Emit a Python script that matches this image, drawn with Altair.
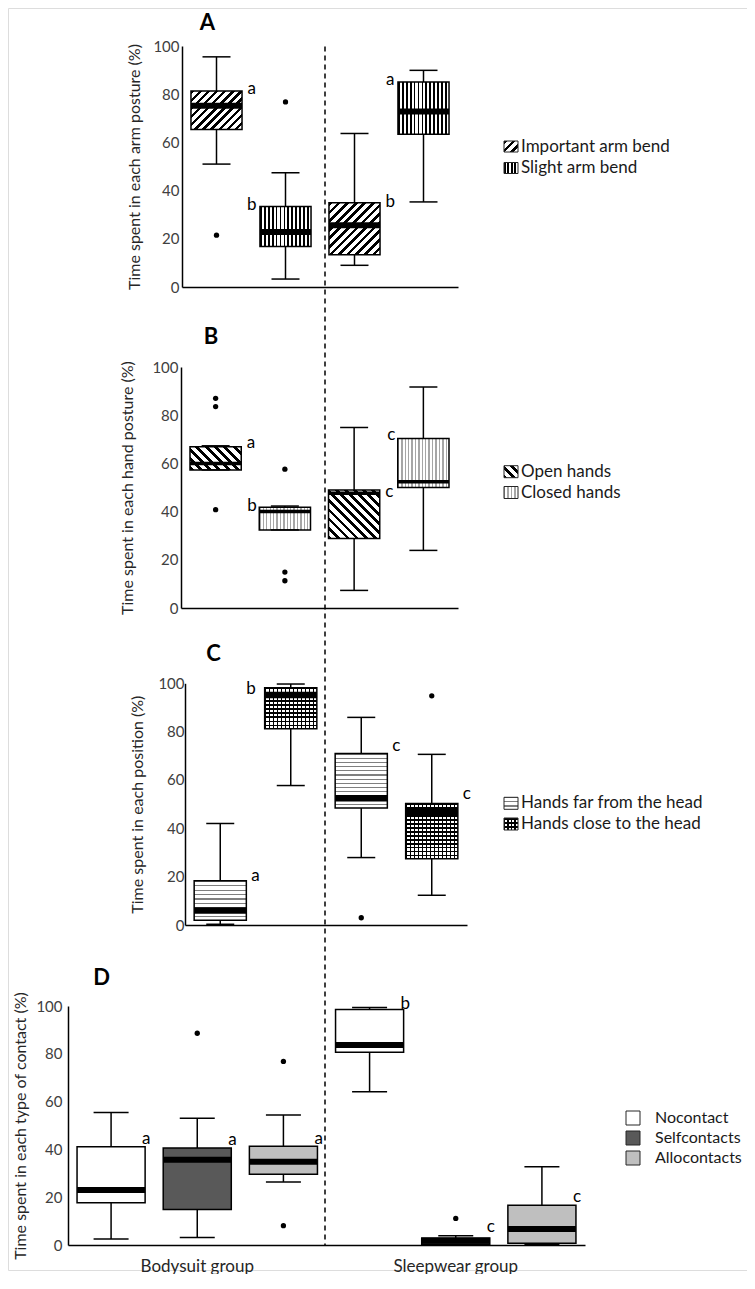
import math
import altair as alt
import pandas as pd

FONT = "Lato"
W, H = 739, 1262

groups = ["Bodysuit group", "Sleepwear group"]

# ---------------- Panel A : arm posture ----------------
a_types = ["Important arm bend", "Slight arm bend"]
a_lo = [51.0, 3.3, 9.0, 35.3]
a_q1 = [65.4, 16.8, 13.4, 63.4]
a_med = [75.2, 22.8, 25.6, 72.8]
a_q3 = [81.3, 33.4, 35.0, 85.1]
a_hi = [95.5, 47.4, 63.7, 89.9]
a_out_group = ["Bodysuit group", "Bodysuit group"]
a_out_type = ["Important arm bend", "Slight arm bend"]
a_out_val = [21.5, 76.8]
a_letters = ["a", "b", "b", "a"]
a_letter_y = [82.3, 34.0, 35.4, 85.8]
a_letter_side = ["R", "L", "R", "L"]

# ---------------- Panel B : hand posture ----------------
b_types = ["Open hands", "Closed hands"]
b_lo = [57.3, 32.4, 7.3, 23.9]
b_q1 = [57.3, 32.4, 28.8, 50.0]
b_med = [60.0, 40.0, 47.6, 52.4]
b_q3 = [66.9, 41.8, 49.0, 70.3]
b_hi = [67.3, 42.3, 74.9, 91.7]
b_out_group = ["Bodysuit group"] * 6
b_out_type = ["Open hands"] * 3 + ["Closed hands"] * 3
b_out_val = [87.0, 83.6, 40.8, 57.6, 14.9, 11.3]
b_letters = ["a", "b", "c", "c"]
b_letter_y = [68.3, 42.5, 48.3, 71.7]
b_letter_side = ["R", "L", "R", "L"]

# ---------------- Panel C : hand position ----------------
c_types = ["Hands far from the head", "Hands close to the head"]
c_lo = [0.3, 57.7, 27.9, 12.3]
c_q1 = [2.0, 81.2, 48.4, 27.4]
c_med = [6.0, 95.2, 52.4, 46.9]
c_q3 = [18.3, 98.2, 71.0, 50.3]
c_hi = [42.0, 99.7, 85.9, 70.6]
c_out_group = ["Sleepwear group", "Sleepwear group"]
c_out_type = ["Hands far from the head", "Hands close to the head"]
c_out_val = [3.0, 94.8]
c_letters = ["a", "b", "c", "c"]
c_letter_y = [20.3, 97.7, 74.0, 54.2]
c_letter_side = ["R", "L", "R", "R"]

# ---------------- Panel D : contact ----------------
d_types = ["Nocontact", "Selfcontacts", "Allocontacts"]
d_lo = [2.5, 3.1, 26.4, 64.1, 0.0, 0.3]
d_q1 = [17.7, 14.9, 29.6, 80.7, 0.3, 0.7]
d_med = [23.0, 35.7, 34.8, 83.7, 1.8, 6.7]
d_q3 = [41.1, 40.6, 41.3, 98.5, 2.9, 16.6]
d_hi = [55.4, 53.0, 54.4, 99.4, 3.9, 32.7]
d_out_group = ["Bodysuit group", "Bodysuit group", "Bodysuit group", "Sleepwear group"]
d_out_type = ["Selfcontacts", "Allocontacts", "Allocontacts", "Selfcontacts"]
d_out_val = [88.6, 76.8, 8.1, 11.1]
d_letters = ["a", "a", "a", "b", "c", "c"]
d_letter_y = [44.3, 43.8, 44.5, 100.8, 7.6, 20.2]
d_letter_side = ["R", "R", "R", "R", "R", "R"]

panel_letters = ["A", "B", "C", "D"]
y_titles = [
    "Time spent in each arm posture (%)",
    "Time spent in each hand posture (%)",
    "Time spent in each position (%)",
    "Time spent in each type of contact (%)",
]


# ---------------- pattern helpers (styling only) ----------------
def grad(n, frac, dark, light, x1, y1, x2, y2):
    stops = []
    for k in range(n):
        a = round(k / n, 5)
        b = round((k + frac) / n, 5)
        c = round((k + 1) / n, 5)
        stops += [
            {"offset": a, "color": dark},
            {"offset": b, "color": dark},
            {"offset": b, "color": light},
            {"offset": c, "color": light},
        ]
    return {"gradient": "linear", "x1": x1, "y1": y1, "x2": x2, "y2": y2, "stops": stops}


def fills_for(spec, w, h):
    kind = spec[0]
    if kind == "solid":
        return [spec[1]]
    sp, frac, col = spec[1], spec[2], spec[3]
    h = max(h, 1.0)
    if kind in ("up", "down"):
        n = max(1, round((w + h) / (math.sqrt(2) * sp)))
        s = (1 / h + 1 / w) / (1 / h ** 2 + 1 / w ** 2)
        if kind == "up":
            return [grad(n, frac, col, "white", 0, 0, s / h, s / w)]
        return [grad(n, frac, col, "white", 0, 1, s / h, 1 - s / w)]
    if kind == "vert":
        return [grad(max(1, round(w / sp)), frac, col, "white", 0, 0, 1, 0)]
    if kind == "horiz":
        return [grad(max(1, round(h / sp)), frac, col, "white", 0, 0, 0, 1)]
    if kind == "checker":
        return [
            grad(max(1, round(h / sp)), frac, col, "white", 0, 0, 0, 1),
            grad(max(1, round(w / sp)), frac, col, "rgba(0,0,0,0)", 0, 0, 1, 0),
        ]
    return ["white"]


panels = [
    dict(types=a_types, lo=a_lo, q1=a_q1, med=a_med, q3=a_q3, hi=a_hi,
         og=a_out_group, ot=a_out_type, ov=a_out_val,
         let=a_letters, ly=a_letter_y, side=a_letter_side,
         x0=174, x1=450, y0=279, y100=38, pi=0.26, cap=28, medw=6,
         lp=3, tp=10, dxr=31, dxl=-29,
         fills={a_types[0]: ("up", 6.0, 0.42, "black"), a_types[1]: ("vert", 4.0, 0.45, "black")},
         leg_x=496, leg_tx=513, leg_y=[138.5, 160], sw=(14, 11), leg_fs=17,
         title_pos=(199.5, 15), xlabels=False),
    dict(types=b_types, lo=b_lo, q1=b_q1, med=b_med, q3=b_q3, hi=b_hi,
         og=b_out_group, ot=b_out_type, ov=b_out_val,
         let=b_letters, ly=b_letter_y, side=b_letter_side,
         x0=173, x1=450, y0=600, y100=359, pi=0.26, cap=28, medw=3.5,
         lp=3, tp=16, dxr=31, dxl=-28,
         fills={b_types[0]: ("down", 6.5, 0.42, "black"), b_types[1]: ("vert", 3.5, 0.4, "#a6a6a6")},
         leg_x=496, leg_tx=513, leg_y=[463.7, 484.5], sw=(14, 12), leg_fs=17,
         title_pos=(203, 329), xlabels=False),
    dict(types=c_types, lo=c_lo, q1=c_q1, med=c_med, q3=c_q3, hi=c_hi,
         og=c_out_group, ot=c_out_type, ov=c_out_val,
         let=c_letters, ly=c_letter_y, side=c_letter_side,
         x0=177, x1=459, y0=917, y100=675.3, pi=0.26, cap=28, medw=6.5,
         lp=1, tp=12, dxr=31, dxl=-35,
         fills={c_types[0]: ("horiz", 4.3, 0.3, "#7f7f7f"), c_types[1]: ("checker", 4.0, 0.4, "black")},
         leg_x=496, leg_tx=513, leg_y=[795.3, 816], sw=(14, 12), leg_fs=17,
         title_pos=(205.5, 646), xlabels=False),
    dict(types=d_types, lo=d_lo, q1=d_q1, med=d_med, q3=d_q3, hi=d_hi,
         og=d_out_group, ot=d_out_type, ov=d_out_val,
         let=d_letters, ly=d_letter_y, side=d_letter_side,
         x0=60, x1=577, y0=1237, y100=998, pi=0.21, cap=35, medw=6,
         lp=6, tp=7, dxr=31, dxl=-31,
         fills={d_types[0]: ("solid", "white"), d_types[1]: ("solid", "#595959"),
                d_types[2]: ("solid", "#bfbfbf")},
         leg_x=618, leg_tx=647, leg_y=[1110, 1130, 1150], sw=(14, 14), leg_fs=16,
         title_pos=(93.5, 970), xlabels=True),
]


def build_panel(i, p):
    keys = [f"{g}|{t}" for g in groups for t in p["types"]]
    n = len(keys)
    step = (p["x1"] - p["x0"]) / n
    bw = step * (1 - p["pi"])
    ppu = (p["y0"] - p["y100"]) / 100.0
    df = pd.DataFrame({
        "key": keys,
        "type": [k.split("|")[1] for k in keys],
        "lo": p["lo"], "q1": p["q1"], "med": p["med"], "q3": p["q3"], "hi": p["hi"],
        "lab": p["let"], "ly": p["ly"], "side": p["side"],
    })
    out = pd.DataFrame({
        "key": [f"{g}|{t}" for g, t in zip(p["og"], p["ot"])],
        "val": p["ov"],
    })

    if p["xlabels"]:
        xaxis = alt.Axis(orient="bottom", offset=-(H - p["y0"]), ticks=False, grid=False,
                         domainColor="black", domainWidth=1.5, labelAngle=0,
                         labelOverlap=False, labelFont=FONT, labelFontSize=17,
                         labelColor="#262626", labelPadding=13,
                         labelExpr="indexof(datum.value, 'Selfcontacts') >= 0 ? split(datum.value, '|')[0] : ''")
    else:
        xaxis = alt.Axis(orient="bottom", offset=-(H - p["y0"]), ticks=False, labels=False,
                         grid=False, domainColor="black", domainWidth=1.5)
    xscale = alt.Scale(domain=keys, range=[p["x0"], p["x1"]],
                       paddingInner=p["pi"], paddingOuter=p["pi"] / 2)
    yscale = alt.Scale(domain=[0, 100], range=[p["y0"], p["y100"]], nice=False, zero=False)
    yaxis = alt.Axis(orient="left", offset=-p["x0"], values=[0, 20, 40, 60, 80, 100],
                     ticks=False, grid=False, domainColor="black", domainWidth=1.5,
                     labelFont=FONT, labelFontSize=15, labelColor="#404040",
                     labelPadding=p["lp"], titleFont=FONT, titleFontSize=16,
                     titleFontWeight="normal", titleColor="#262626", titlePadding=p["tp"])
    X = alt.X("key:N", scale=xscale, axis=xaxis, title=None)

    def Y(f):
        return alt.Y(f"{f}:Q", scale=yscale, axis=yaxis, title=y_titles[i])

    base = alt.Chart(df)
    layers = [base.mark_rule(color="black", strokeWidth=1.5).encode(x=X, y=Y("lo"), y2="hi")]
    for j, k in enumerate(keys):
        h = (p["q3"][j] - p["q1"][j]) * ppu
        fl = fills_for(p["fills"][df["type"][j]], bw, h)
        sub = base.transform_filter(alt.datum.key == k)
        for m, f in enumerate(fl):
            last = m == len(fl) - 1
            layers.append(
                sub.mark_bar(fill=f, stroke="black" if last else None,
                             strokeWidth=1.5 if last else 0).encode(x=X, y=Y("q1"), y2="q3"))
    layers.append(base.mark_tick(color="black", thickness=p["medw"], size=bw, opacity=1)
                  .encode(x=X, y=Y("med")))
    layers.append(base.mark_tick(color="black", thickness=1.5, size=p["cap"], opacity=1)
                  .encode(x=X, y=Y("hi")))
    layers.append(base.mark_tick(color="black", thickness=1.5, size=p["cap"], opacity=1)
                  .encode(x=X, y=Y("lo")))
    layers.append(alt.Chart(out).mark_circle(color="black", size=28, opacity=1)
                  .encode(x=X, y=Y("val")))
    layers.append(base.transform_filter(alt.datum.side == "R")
                  .mark_text(align="left", baseline="middle", dx=p["dxr"], font=FONT,
                             fontSize=17, color="black")
                  .encode(x=X, y=Y("ly"), text="lab:N"))
    layers.append(base.transform_filter(alt.datum.side == "L")
                  .mark_text(align="right", baseline="middle", dx=p["dxl"], font=FONT,
                             fontSize=17, color="black")
                  .encode(x=X, y=Y("ly"), text="lab:N"))
    return alt.layer(*layers)


def build_decor(i, p):
    deco = []
    tx, ty = p["title_pos"]
    deco.append(alt.Chart(pd.DataFrame({"t": [panel_letters[i]]}))
                .mark_text(align="center", baseline="middle", font=FONT, fontSize=22,
                           fontWeight="bold", color="black")
                .encode(x=alt.value(tx), y=alt.value(ty), text="t:N"))
    sw_w, sw_h = p["sw"]
    for t, cy in zip(p["types"], p["leg_y"]):
        ldf = pd.DataFrame({"label": [t]})
        fl = fills_for(p["fills"][t], sw_w, sw_h)
        for m, f in enumerate(fl):
            last = m == len(fl) - 1
            deco.append(alt.Chart(ldf).mark_rect(fill=f, stroke="#262626" if last else None,
                                                 strokeWidth=1 if last else 0)
                        .encode(x=alt.value(p["leg_x"]), x2=alt.value(p["leg_x"] + sw_w),
                                y=alt.value(cy - sw_h / 2), y2=alt.value(cy + sw_h / 2)))
        deco.append(alt.Chart(ldf).mark_text(align="left", baseline="middle", font=FONT,
                                             fontSize=p["leg_fs"], color="#1a1a1a")
                    .encode(x=alt.value(p["leg_tx"]), y=alt.value(cy), text="label:N"))
    return deco


panel_charts = [build_panel(i, p) for i, p in enumerate(panels)]
decor = []
for i, p in enumerate(panels):
    decor += build_decor(i, p)

divider = (alt.Chart(pd.DataFrame({"d": [0]}))
           .mark_rule(color="black", strokeWidth=1.5, strokeDash=[5, 4])
           .encode(x=alt.value(317), y=alt.value(38.5), y2=alt.value(1237)))

chart = (
    alt.layer(*panel_charts, *decor, divider)
    .resolve_scale(x="independent", y="independent")
    .properties(width=W, height=H, padding=0, background="white")
    .configure_view(stroke=None)
    .configure(font=FONT)
)

chart.save("out.html", embed_options={"renderer": "svg", "actions": False})
